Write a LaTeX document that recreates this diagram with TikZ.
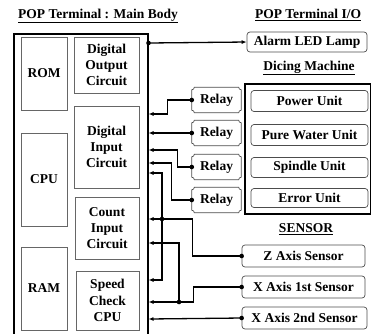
\documentclass[tikz,border=0pt]{standalone}
\usepackage{fontspec}
\setmainfont{Liberation Serif}
\usetikzlibrary{shapes,arrows.meta,positioning}

\begin{document}
\begin{tikzpicture}[x=1pt,y=-1pt,
		font=\fontsize{13.5}{16.3}\selectfont\bfseries,
		blk/.style={draw=black!60, line width=0.7pt, align=center, inner sep=0pt},
		unit/.style={draw=black!70, line width=0.7pt, rounded corners=3pt, inner sep=0pt},
		relay/.style={minimum width=49, minimum height=25, inner sep=0pt},
		arr/.style={line width=1.3pt, -{Latex[length=5pt,width=4pt]}},
		dot/.style={circle, fill, inner sep=0pt, minimum size=4.6pt},
		head/.style={inner sep=0pt}]
	\useasboundingbox (0,0) rectangle (371,333);
	\clip (0,0) rectangle (371,333);

	% Headers
	\node[head] (hbody) at (98,16) {\underline{POP Terminal : Main Body}};
	\node[head] (hio) at (308,15) {\underline{POP Terminal I/O}};
	\node[head] (hdice) at (309,68) {\underline{Dicing Machine}};
	\node[head] (hsens) at (306,229) {\underline{SENSOR}};

	% Main body and its blocks
	\node[draw, line width=1.5pt, minimum width=134, minimum height=315, anchor=north west] (body) at (13,33) {};
	\node[blk, minimum width=46, minimum height=73] (rom) at (44,73.5) {ROM};
	\node[blk, minimum width=46, minimum height=93] (cpu) at (44,179.5) {CPU};
	\node[blk, minimum width=46, minimum height=83] (ram) at (44,288.5) {RAM};
	\node[blk, minimum width=65, minimum height=56] (dout) at (106.5,65) {Digital\\Output\\Circuit};
	\node[blk, minimum width=65, minimum height=82] (din) at (106.5,147) {Digital\\Input\\Circuit};
	\node[blk, minimum width=64, minimum height=62] (cnt) at (107,228) {Count\\Input\\Circuit};
	\node[blk, minimum width=63, minimum height=59] (spd) at (107.5,300.5) {Speed\\Check\\CPU};

	% Pins on the right edge of the body
	\foreach \p/\y in {o1/43, p1/114, p2/133, p3/150, p4/163, p5/173, p6/219, p7/243, p8/280, p9/302, p10/319}
		\coordinate (\p) at (body.east |- 0,\y);

	% I/O side
	\node[unit, minimum width=120, minimum height=20] (lamp) at (307,42) {Alarm LED Lamp};
	\node[draw, line width=1.5pt, minimum width=126, minimum height=130, anchor=north west] (dice) at (244,83) {};
	\node[unit, minimum width=117, minimum height=21] (pwr) at (309.5,101) {Power Unit};
	\node[unit, minimum width=117, minimum height=21] (water) at (309.5,135) {Pure Water Unit};
	\node[unit, minimum width=117, minimum height=20] (spin) at (309.5,167.5) {Spindle Unit};
	\node[unit, minimum width=117, minimum height=19] (err) at (309.5,198) {Error Unit};

	\node[relay] (r1) at (216.5,100) {Relay};
	\node[relay] (r2) at (216.5,133) {Relay};
	\node[relay] (r3) at (216.5,167) {Relay};
	\node[relay] (r4) at (216.5,200) {Relay};
	% relay outline with cut-in corners
	\foreach \r in {r1,r2,r3,r4} {
		\draw[black!70, line width=0.7pt] ([xshift=2.5pt]\r.north west) -- ([xshift=-2.5pt]\r.north east)
			arc[start angle=180, end angle=270, radius=2.5pt] -- ([yshift=2.5pt]\r.south east)
			arc[start angle=90, end angle=180, radius=2.5pt] -- ([xshift=2.5pt]\r.south west)
			arc[start angle=0, end angle=90, radius=2.5pt] -- ([yshift=-2.5pt]\r.north west)
			arc[start angle=270, end angle=360, radius=2.5pt] -- cycle;
	}

	\node[unit, minimum width=123, minimum height=22] (zs) at (303.5,256) {Z Axis Sensor};
	\node[unit, minimum width=123, minimum height=22] (x1) at (303.5,287) {X Axis 1st Sensor};
	\node[unit, minimum width=125, minimum height=22] (x2) at (304.5,318) {X Axis 2nd Sensor};

	% Signals
	\draw[arr] (o1) node[dot] {} -- (lamp.west);
	\draw[arr] (r1.west) node[dot] {} -- ++(-24,0) |- (p1);
	\draw[arr] (r2.west) node[dot] {} -- (p2);
	\draw[arr] (r3.west) node[dot] {} -- ++(-14,0) |- (p3);
	\draw[arr] (r4.west) node[dot] {} -- ++(-20,0) |- (p4);

	\draw[arr] (zs.west) node[dot] {} -- ++(-49,0) |- (p6);
	\coordinate (zj) at (162,219);
	\draw[arr] (zj) node[dot] {} |- (p5);
	\draw[arr] (zj) |- (p8);

	\draw[arr] (x1.west) node[dot] {} -- ++(-48,0) |- (p9);
	\coordinate (xj) at (179,302);
	\draw[arr] (xj) node[dot] {} |- (p7);

	\draw[arr] (x2.west) node[dot] {} -- (p10);
\end{tikzpicture}
\end{document}
